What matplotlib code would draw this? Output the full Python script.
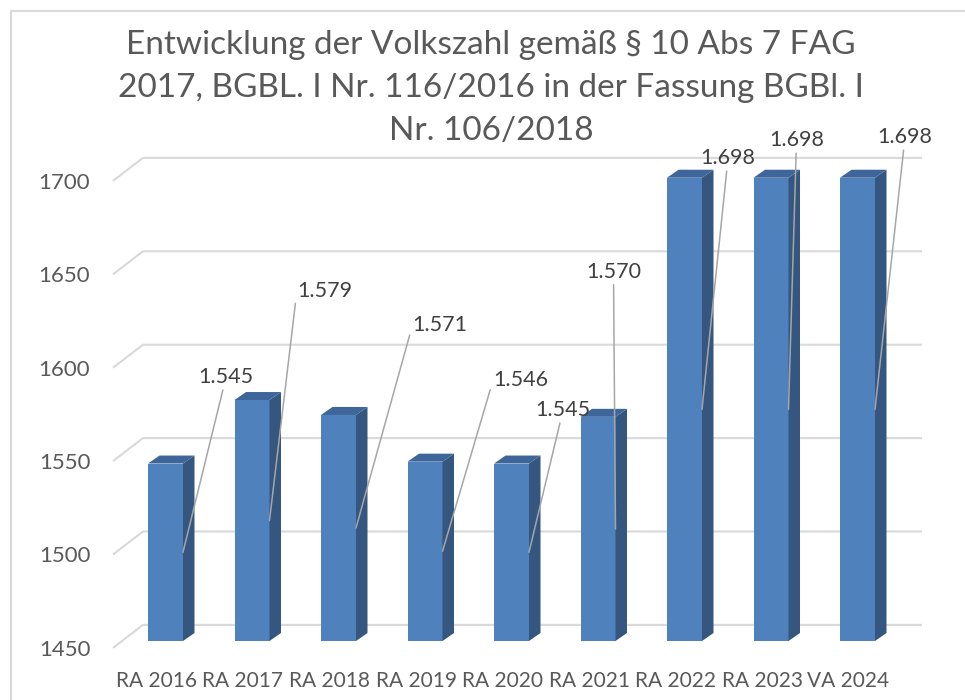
import numpy as np
import matplotlib
matplotlib.use('Agg')
import matplotlib.pyplot as plt
from matplotlib.patches import Polygon
from matplotlib.lines import Line2D

categories = ['RA 2016', 'RA 2017', 'RA 2018', 'RA 2019', 'RA 2020',
              'RA 2021', 'RA 2022', 'RA 2023', 'VA 2024']
values = [1545, 1579, 1571, 1546, 1545, 1570, 1698, 1698, 1698]
value_labels = ['1.545', '1.579', '1.571', '1.546', '1.545',
                '1.570', '1.698', '1.698', '1.698']
yticks = [1450, 1500, 1550, 1600, 1650, 1700]
title_lines = ['Entwicklung der Volkszahl gemäß § 10 Abs 7 FAG',
               '2017, BGBL. I Nr. 116/2016 in der Fassung BGBl. I',
               'Nr. 106/2018']

# where each data label sits relative to its leader line anchor (pixels)
label_offsets = [(43, 175), (55, 230), (84, 203), (78, 171), (34, 142),
                 (-2, 257), (26, 251), (8, 269), (30, 272)]
# where the leader line leaves the label box
label_relpos = [(0.5, 0.5), (0, 0.5), (0, 0.5), (0, 0.5), (0.5, 0.5),
                (0.5, 0.5), (0.5, 0.5), (0.5, 0.5), (0.5, 0.5)]

FONT = 'Lato'
W, H = 965, 700
base = yticks[0]

# pixel scale of the plot
sx = 86.5          # px per category
sy = 93.4 / 50     # px per unit
x0_px, base_px = 165.5, 641
left, right, top, bottom = 100, 930, 150, 660

fig = plt.figure(figsize=(W / 100, H / 100), dpi=100)
ax = fig.add_axes([left / W, (H - bottom) / H, (right - left) / W, (bottom - top) / H])
ax.set_xlim((left - x0_px) / sx, (right - x0_px) / sx)
ax.set_ylim(base - (bottom - base_px) / sy, base + (base_px - top) / sy)

# 3d look: depth of the whole box and of a bar, in data units
depth_x, depth_y = 30 / sx, 23 / sy
front_dx, front_dy = -0.3 * depth_x, -0.3 * depth_y
back_dx, back_dy = 0.7 * depth_x, 0.7 * depth_y
bar_dx, bar_dy = 11.5 / sx, 8 / sy
w = 35 / sx

grid_color = '#d9d9d9'
gx_front = (113 - x0_px) / sx
gx_right = (922 - x0_px) / sx
for g in yticks:
    ax.plot([gx_front, gx_front + depth_x, gx_right],
            [g + front_dy, g + back_dy, g + back_dy],
            color=grid_color, lw=1.5, zorder=1, solid_capstyle='butt')

front_c, side_c, top_c = '#4f81bd', '#34567f', '#3e669a'
x = np.arange(len(categories))
ax.bar(x, np.array(values) - base, bottom=base, width=w, color=front_c,
       zorder=3, linewidth=0)
for i, v in zip(x, values):
    xr = i + w / 2
    xl = i - w / 2
    ax.add_patch(Polygon([(xr, base), (xr, v), (xr + bar_dx, v + bar_dy),
                          (xr + bar_dx, base + bar_dy)],
                         closed=True, facecolor=side_c, lw=0, zorder=3))
    ax.add_patch(Polygon([(xl, v), (xr, v), (xr + bar_dx, v + bar_dy),
                          (xl + bar_dx, v + bar_dy)],
                         closed=True, facecolor=top_c, lw=0, zorder=3))

for i, (v, lab, off, rp) in enumerate(zip(values, value_labels,
                                          label_offsets, label_relpos)):
    ax.annotate(lab, xy=(i + w / 2, (base + v) / 2), xytext=off,
                textcoords='offset pixels', ha='center', va='center',
                fontsize=15.5, family=FONT, color='#404040', zorder=5,
                annotation_clip=False,
                arrowprops=dict(arrowstyle='-', color='#a6a6a6', lw=1.1,
                                shrinkA=0, shrinkB=0, relpos=rp))

ax.set_yticks([g + front_dy for g in yticks])
ax.set_yticklabels([str(g) for g in yticks])
ax.set_xticks(x + front_dx)
ax.set_xticklabels(categories)
ax.tick_params(axis='y', length=0, pad=7, labelsize=16, labelcolor='#595959')
ax.tick_params(axis='x', length=0, pad=8, labelsize=15, labelcolor='#595959')
for t in ax.get_xticklabels() + ax.get_yticklabels():
    t.set_family(FONT)
for s in ax.spines.values():
    s.set_visible(False)

for k, line in enumerate(title_lines):
    fig.text(491 / W, 1 - (45 + 43 * k) / H, line, ha='center', va='center',
             fontsize=24, family=FONT, color='#595959')

# chart area border (top and left edges visible)
fig.add_artist(Line2D([11 / W, 11 / W, 1], [0, 1 - 11 / H, 1 - 11 / H],
                      transform=fig.transFigure, color=grid_color, lw=1.5))

fig.savefig('out.png', dpi=100)
